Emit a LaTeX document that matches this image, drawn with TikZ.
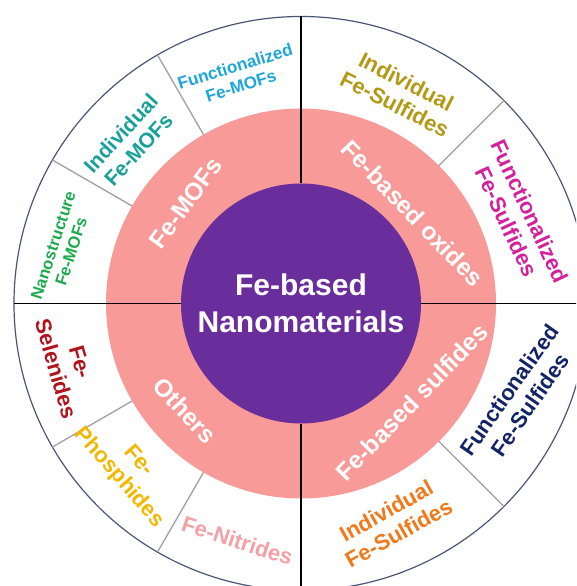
\documentclass[tikz,border=0pt]{standalone}
\usepackage{fontspec}
\setmainfont{Liberation Sans}

\definecolor{ringpink}{HTML}{F89A98}
\definecolor{corepurple}{HTML}{6A2D9C}
\definecolor{rimblue}{HTML}{4A5578}
\definecolor{divgray}{HTML}{A0A0A0}
\definecolor{cCyan}{HTML}{1CA6DC}
\definecolor{cTeal}{HTML}{17A19A}
\definecolor{cGreen}{HTML}{1DAA4C}
\definecolor{cGold}{HTML}{B39A16}
\definecolor{cMagenta}{HTML}{D4209C}
\definecolor{cNavy}{HTML}{122466}
\definecolor{cOrange}{HTML}{F07A1A}
\definecolor{cRed}{HTML}{B2141E}
\definecolor{cYellow}{HTML}{F2B800}
\definecolor{cRose}{HTML}{F4A0A4}

\tikzset{
  core/.style={text=white, align=center, inner sep=0pt,
    font=\fontsize{30}{37}\selectfont\bfseries},
  band/.style={text=white, inner sep=0pt,
    font=\fontsize{24.5}{28}\selectfont\bfseries},
  sub/.style={align=center, inner sep=0pt},
  fsA/.style={font=\fontsize{17}{20}\selectfont\bfseries},
  fsB/.style={font=\fontsize{16.5}{19}\selectfont\bfseries},
  fsC/.style={font=\fontsize{21}{24}\selectfont\bfseries},
  fsD/.style={font=\fontsize{22}{25.5}\selectfont\bfseries},
  cross/.style={line width=1.8pt, black},
  divider/.style={line width=1.3pt, divgray},
}

\begin{document}
\begin{tikzpicture}[x=1pt,y=1pt]
  \useasboundingbox (-301,303.5) rectangle (275,-282.5);
  \clip (-301,303.5) rectangle (275,-282.5);

  % outer white ring with its rim
  \fill[white] (-301,303.5) rectangle (275,-282.5);
  \draw[rimblue, line width=1.2pt] (0,0) circle (287);

  % pink band of main families
  \fill[ringpink] (0,0) circle (195);

  % quadrant separators
  \foreach \a in {0,90,180,270}
    \draw[cross] (\a:120) -- (\a:287);

  % sub-category separators in the outer ring
  \foreach \a in {45,120,150,210,240,315}
    \draw[divider] (\a:195) -- (\a:287);

  % central disk
  \fill[corepurple] (0,0) circle (120);
  \node[core] (centre) at (0,0) {Fe-based\\Nanomaterials};

  % main families
  \node[band, rotate=54]  (mofs)     at (139:153)   {Fe-MOFs};
  \node[band, rotate=-46] (oxides)   at (39:143.6)  {Fe-based oxides};
  \node[band, rotate=46]  (sulfides) at (-41.7:148.3) {Fe-based sulfides};
  \node[band, rotate=-47] (others)   at (222.7:158) {Others};

  % Fe-MOFs sub-categories
  \node[sub, fsA, text=cCyan,  rotate=17]  (funcmof) at (105.5:236) {Functionalized\\Fe-MOFs};
  \node[sub, fsC, text=cTeal,  rotate=47.5] (indmof) at (136.6:236) {Individual\\Fe-MOFs};
  \node[sub, fsB, text=cGreen, rotate=72]  (nanomof) at (167:245)   {Nanostructure\\Fe-MOFs};

  % Fe-based oxides sub-categories
  \node[sub, fsD, text=cGold,    rotate=-27] (indox)  at (64.7:233) {Individual\\Fe-Sulfides};
  \node[sub, fsD, text=cMagenta, rotate=-65] (funcox) at (21.8:234) {Functionalized\\Fe-Sulfides};

  % Fe-based sulfides sub-categories
  \node[sub, fsD, text=cNavy,   rotate=55] (funcsul) at (-23.3:238) {Functionalized\\Fe-Sulfides};
  \node[sub, fsD, text=cOrange, rotate=29] (indsul)  at (-67.3:237) {Individual\\Fe-Sulfides};

  % other compounds
  \node[sub, fsD, text=cRed,    rotate=-74] (selen) at (194.9:241) {Fe-\\Selenides};
  \node[sub, fsD, text=cYellow, rotate=-49] (phos)  at (223.9:239.5) {Fe-\\Phosphides};
  \node[sub, fsD, text=cRose,   rotate=-18] (nitr)  at (255:245.4) {Fe-Nitrides};
\end{tikzpicture}
\end{document}
